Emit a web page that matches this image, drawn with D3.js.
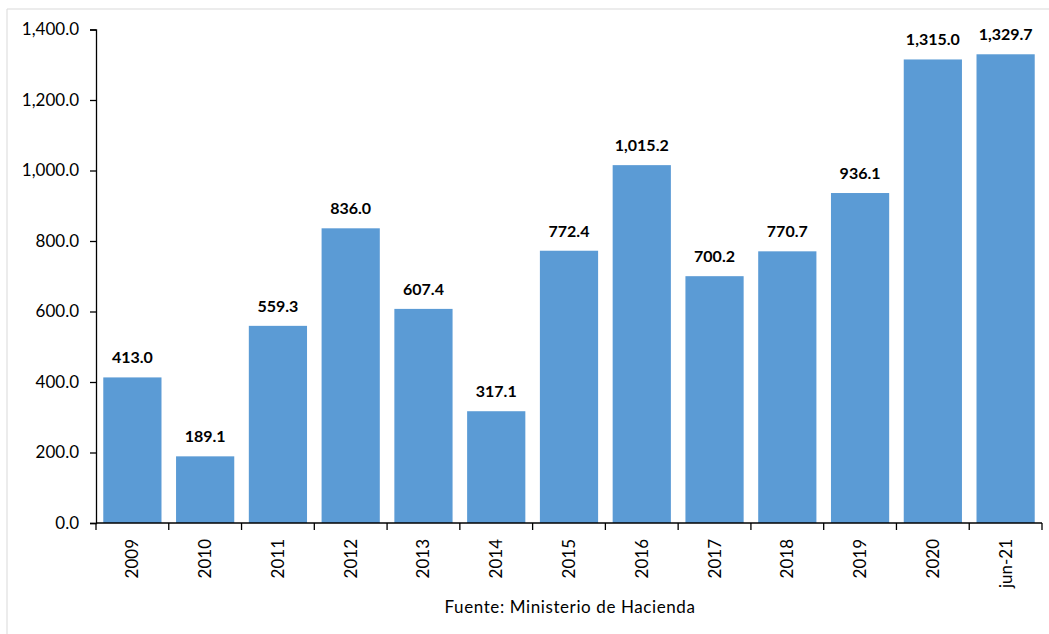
<!DOCTYPE html>
<html>
<head>
<meta charset="utf-8">
<script src="https://cdn.jsdelivr.net/npm/d3@7"></script>
<style>
  body { margin: 0; background: #fff; }
  svg { display: block; font-family: Lato, "Open Sans", sans-serif; }
</style>
</head>
<body>
<svg id="chart" width="1049" height="634"></svg>
<script>
// Chart data
const categories = ["2009", "2010", "2011", "2012", "2013", "2014", "2015", "2016", "2017", "2018", "2019", "2020", "jun-21"];
const values = [413.0, 189.1, 559.3, 836.0, 607.4, 317.1, 772.4, 1015.2, 700.2, 770.7, 936.1, 1315.0, 1329.7];
const yTicks = [0, 200, 400, 600, 800, 1000, 1200, 1400];
const sourceText = "Fuente:  Ministerio de Hacienda";

const svg = d3.select("#chart");
const margin = { top: 29.5, left: 96, right: 7, bottom: 111 };
const width = 1049, height = 634;

// light frame like the spreadsheet chart area
svg.append("line").attr("x1", 7).attr("y1", 9).attr("x2", width).attr("y2", 9)
  .attr("stroke", "#d9d9d9").attr("stroke-width", 1);
svg.append("line").attr("x1", 7).attr("y1", 9).attr("x2", 7).attr("y2", height)
  .attr("stroke", "#d9d9d9").attr("stroke-width", 1);

const x = d3.scaleBand()
  .domain(categories)
  .range([margin.left, width - margin.right])
  .paddingInner(0.2)
  .paddingOuter(0.1);

const y = d3.scaleLinear()
  .domain([0, 1400])
  .range([height - margin.bottom, margin.top]);

const fmt = d3.format(",.1f");

// Bars
svg.append("g").selectAll("rect")
  .data(values)
  .join("rect")
  .attr("x", (d, i) => x(categories[i]))
  .attr("y", d => y(d))
  .attr("width", x.bandwidth())
  .attr("height", d => y(0) - y(d))
  .attr("fill", "#5b9bd5");

// Value labels
svg.append("g").selectAll("text")
  .data(values)
  .join("text")
  .attr("x", (d, i) => x(categories[i]) + x.bandwidth() / 2)
  .attr("y", d => y(d) - 14)
  .attr("text-anchor", "middle")
  .attr("font-size", "16px")
  .attr("font-weight", "bold")
  .attr("fill", "#000")
  .text(d => fmt(d));

// Y axis
const yAxis = svg.append("g")
  .attr("transform", `translate(${margin.left},0)`)
  .call(d3.axisLeft(y).tickValues(yTicks).tickFormat(fmt).tickSize(6).tickPadding(11));
yAxis.select(".domain").attr("stroke", "#000").attr("stroke-width", 1.3);
yAxis.selectAll(".tick line").attr("stroke", "#000").attr("stroke-width", 1.3);
yAxis.selectAll(".tick text").attr("font-size", "17px").attr("fill", "#000")
  .attr("font-family", "Lato, 'Open Sans', sans-serif");

// X axis: ticks at band boundaries
const xAxis = svg.append("g")
  .attr("transform", `translate(0,${y(0)})`);
xAxis.append("line")
  .attr("x1", margin.left).attr("x2", width - margin.right)
  .attr("stroke", "#000").attr("stroke-width", 1.3);
const step = x.step();
const boundaries = categories.map(c => x(c) - step * x.paddingInner() / 2);
boundaries.push(x(categories[categories.length - 1]) + x.bandwidth() + step * x.paddingInner() / 2);
boundaries[0] = margin.left;
boundaries[boundaries.length - 1] = width - margin.right;
xAxis.selectAll("line.tick")
  .data(boundaries)
  .join("line")
  .attr("class", "tick")
  .attr("x1", d => d).attr("x2", d => d)
  .attr("y1", 0).attr("y2", 7)
  .attr("stroke", "#000").attr("stroke-width", 1.3);

xAxis.selectAll("text")
  .data(categories)
  .join("text")
  .attr("transform", d => `translate(${x(d) + x.bandwidth() / 2 + 6},16) rotate(-90)`)
  .attr("text-anchor", "end")
  .attr("font-size", "17px")
  .attr("fill", "#000")
  .text(d => d);

// Source note
svg.append("text")
  .attr("x", 570)
  .attr("y", 613)
  .attr("text-anchor", "middle")
  .attr("font-size", "17px")
  .attr("letter-spacing", "0.6px")
  .attr("fill", "#000")
  .text(sourceText);
</script>
</body>
</html>
